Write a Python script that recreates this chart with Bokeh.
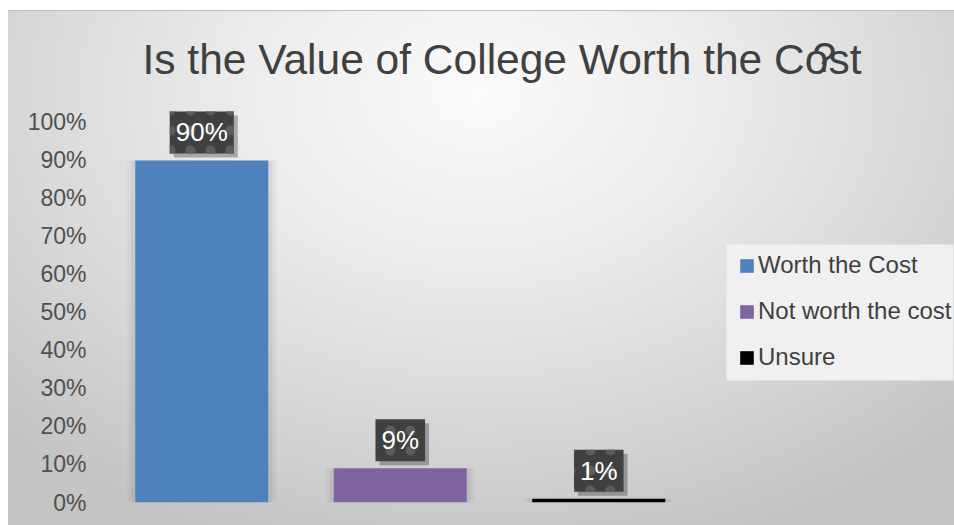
from bokeh.plotting import figure
from bokeh.models import (ColumnDataSource, Range1d, NumeralTickFormatter,
                          FixedTicker, Legend, LegendItem, Label, BoxAnnotation)
from bokeh.core.properties import value
from bokeh.embed import file_html
from bokeh.resources import INLINE

# ---- data ----
categories = ["Worth the Cost", "Not worth the cost", "Unsure"]
shares = [0.90, 0.09, 0.01]
label_texts = ["90%", "9%", "1%"]
y_ticks = [0.0, 0.1, 0.2, 0.3, 0.4, 0.5, 0.6, 0.7, 0.8, 0.9, 1.0]
title_text = "Is the Value of College Worth the Cost"
title_mark = "?"

# ---- styles ----
bar_colors = ["#4f81bd", "#8064a2", "#000000"]
FONT = "Liberation Sans"
TXT = "#404040"

slots = list(range(len(categories)))
src = ColumnDataSource(dict(x=slots, cat=categories, share=shares, label=label_texts, color=bar_colors))

# frame spans the whole chart area so title, legend and labels sit on it
p = figure(width=954, height=525,
           x_range=Range1d(-0.5, 3.792),
           y_range=Range1d(0, 1.2947),
           output_backend="svg", toolbar_location=None,
           min_border_left=102, min_border_right=0,
           min_border_top=10, min_border_bottom=23)

p.styles = {
    "background": (
        "linear-gradient(#ffffff, #ffffff) 0 0 / 100% 10px no-repeat, "
        "linear-gradient(#ffffff, #ffffff) 0 0 / 8px 100% no-repeat, "
        "linear-gradient(#bdbdbd, #bdbdbd) 0 10px / 100% 1px no-repeat, "
        "radial-gradient(ellipse 70% 90% at 50% 18%, #fbfbfb 0%, #ececec 35%, #dadada 65%, #c4c4c4 100%)"
    ),
}
p.border_fill_color = None
p.background_fill_color = None
p.outline_line_color = None
p.xgrid.visible = False
p.ygrid.visible = False
p.xaxis.visible = False

ax = p.yaxis[0]
ax.ticker = FixedTicker(ticks=y_ticks)
ax.formatter = NumeralTickFormatter(format="0%")
ax.axis_line_color = None
ax.major_tick_line_color = None
ax.minor_tick_line_color = None
ax.major_tick_in = 0
ax.major_tick_out = 0
ax.major_label_standoff = 16
ax.major_label_text_font = FONT
ax.major_label_text_font_size = "23px"
ax.major_label_text_color = "#505050"

# soft bar shadows
p.vbar(x="x", top="share", width=0.75, color="#000000", fill_alpha=0.035, line_color=None, source=src)
p.vbar(x="x", top="share", width=0.71, color="#000000", fill_alpha=0.05, line_color=None, source=src)
bars = p.vbar(x="x", top="share", width=0.67, color="color", line_color=None, source=src)

# label shadows
p.text(x="x", y="share", text="label", source=src,
       text_font=value(FONT), text_font_size="26px", text_alpha=0,
       text_align="center", text_baseline="middle",
       x_offset=4, y_offset=-24,
       background_fill_color="#000000", background_fill_alpha=0.28,
       padding=dict(x=6, y=6))
# data labels
p.text(x="x", y="share", text="label", source=src,
       text_font=value(FONT), text_font_size="26px", text_color="white",
       text_align="center", text_baseline="middle",
       y_offset=-28,
       background_fill_color="#404040",
       background_hatch_pattern="dot", background_hatch_color="#5c5c5c",
       background_hatch_scale=20, background_hatch_weight=5,
       padding=dict(x=6, y=6))

# legend panel background
legend_box = BoxAnnotation(left=624, right=851, bottom=122, top=258,
                           left_units="screen", right_units="screen",
                           bottom_units="screen", top_units="screen",
                           fill_color="#f0f0f0", fill_alpha=1, line_color=None)
p.add_layout(legend_box)

legend = Legend(items=[LegendItem(label=c, renderers=[bars], index=i) for i, c in enumerate(categories)],
                location=(636, 131), orientation="vertical",
                background_fill_alpha=0, border_line_color=None, padding=0, margin=0,
                glyph_width=17, glyph_height=17, label_standoff=3,
                label_height=26, spacing=18,
                label_text_font=FONT, label_text_font_size="24px", label_text_color=TXT)
p.add_layout(legend)

title = Label(x=40, y=443, x_units="screen", y_units="screen", text=title_text,
              text_font=FONT, text_font_size="42.5px", text_color=TXT,
              text_baseline="alphabetic", text_align="left")
p.add_layout(title)

qmark = Label(x=710, y=445, x_units="screen", y_units="screen", text=title_mark,
              text_font=FONT, text_font_size="42.5px", text_color=TXT,
              text_baseline="alphabetic", text_align="left")
p.add_layout(qmark)

open("out.html", "w").write(file_html(p, INLINE))
